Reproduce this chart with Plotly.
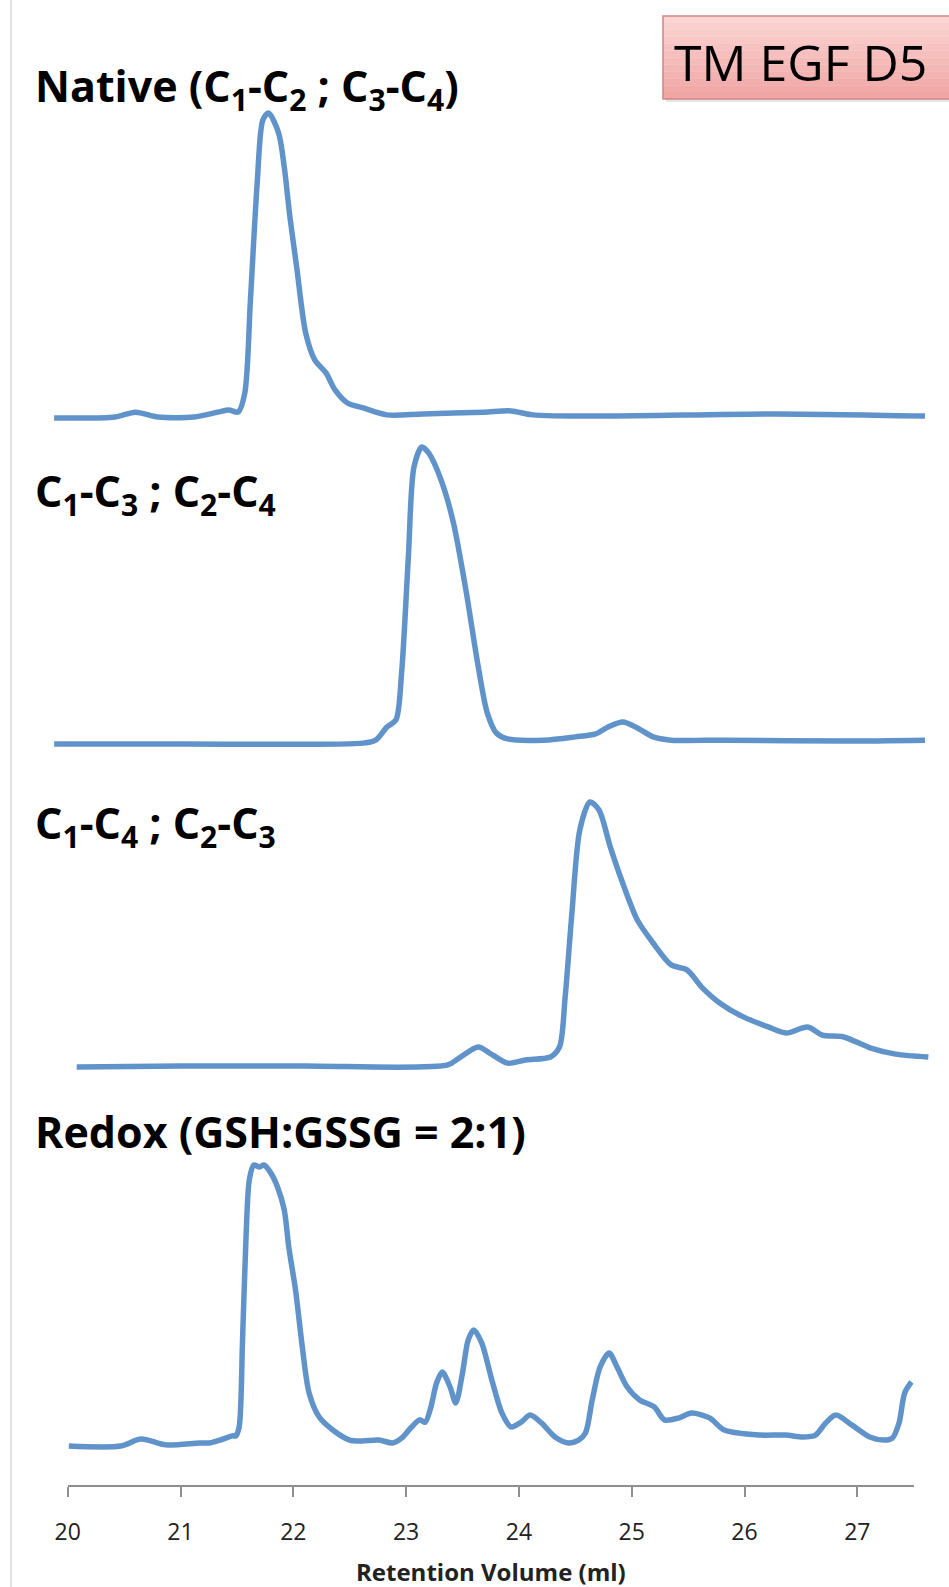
import plotly.graph_objects as go

# ---------------- data ----------------
native_x = [19.88, 20.42, 20.60, 20.80, 21.12, 21.33, 21.43, 21.51, 21.57, 21.62, 21.68, 21.73,
            21.78, 21.87, 21.92, 21.97, 22.03, 22.11, 22.19, 22.29, 22.37, 22.48, 22.62, 22.83,
            23.15, 23.69, 23.93, 24.12, 24.76, 26.27, 27.60]
native_y = [-0.3, 0.0, 1.6, 0.0, 0.0, 1.6, 2.3, 1.6, 7.9, 38.5, 77.0, 97.7,
            100.0, 93.4, 82.2, 65.8, 49.3, 27.6, 18.8, 14.5, 8.9, 4.6, 3.0, 0.7,
            1.0, 1.6, 2.0, 0.7, 0.3, 1.0, 0.3]

c13_x = [19.88, 21.01, 22.62, 22.73, 22.83, 22.91, 22.96, 23.02, 23.07, 23.14, 23.20, 23.31,
         23.42, 23.53, 23.64, 23.72, 23.80, 23.90, 24.22, 24.50, 24.68, 24.79, 24.92, 25.05,
         25.19, 25.35, 25.83, 26.90, 27.60]
c13_y = [0.0, 0.0, 0.3, 1.3, 5.7, 8.1, 23.9, 63.0, 93.3, 100.0, 98.0, 88.9,
         74.4, 51.9, 25.9, 10.4, 3.7, 1.7, 1.3, 2.4, 3.4, 5.7, 7.4, 5.4,
         2.4, 1.3, 1.3, 1.0, 1.3]

c14_x = [20.08, 21.01, 22.08, 23.37, 23.47, 23.64, 23.74, 23.90, 24.06, 24.28, 24.36, 24.41,
         24.47, 24.54, 24.63, 24.71, 24.81, 24.92, 25.05, 25.19, 25.35, 25.49, 25.62, 25.78,
         25.99, 26.21, 26.37, 26.56, 26.69, 26.88, 27.12, 27.34, 27.63]
c14_y = [-0.4, 0.0, 0.0, 0.4, 3.0, 7.2, 4.9, 1.1, 2.3, 3.4, 7.2, 26.1,
         58.0, 89.4, 100.0, 97.0, 83.0, 69.3, 55.3, 46.6, 38.3, 36.4, 29.9, 23.9,
         18.6, 14.8, 12.5, 14.8, 11.7, 11.0, 6.8, 4.5, 3.4]

redox_x = [20.01, 20.47, 20.65, 20.87, 21.17, 21.26, 21.35, 21.46, 21.49, 21.52, 21.55, 21.58,
           21.61, 21.65, 21.70, 21.74, 21.80, 21.86, 21.92, 21.96, 22.02, 22.08, 22.14, 22.23,
           22.35, 22.50, 22.61, 22.76, 22.88, 22.96, 23.04, 23.12, 23.17, 23.22, 23.27, 23.32,
           23.39, 23.44, 23.50, 23.55, 23.60, 23.67, 23.76, 23.85, 23.93, 24.02, 24.10, 24.20,
           24.32, 24.44, 24.53, 24.59, 24.65, 24.72, 24.80, 24.87, 24.96, 25.07, 25.20, 25.29,
           25.42, 25.53, 25.69, 25.82, 26.14, 26.36, 26.52, 26.63, 26.72, 26.81, 26.95, 27.11,
           27.24, 27.31, 27.37, 27.42, 27.48]
redox_y = [0.0, 0.0, 2.5, 0.4, 1.1, 1.1, 2.1, 3.6, 3.6, 6.8, 37.7, 73.3,
           94.7, 100.0, 99.3, 100.0, 97.2, 92.2, 84.0, 70.8, 55.5, 35.2, 18.9, 10.3,
           5.7, 2.1, 1.8, 2.1, 1.1, 2.8, 6.4, 9.3, 8.5, 13.9, 22.4, 26.3,
           21.0, 15.3, 26.0, 37.7, 41.3, 36.7, 23.5, 11.7, 6.8, 8.5, 11.0, 8.2,
           3.2, 1.1, 2.1, 4.6, 16.4, 28.1, 33.1, 28.1, 21.0, 16.4, 13.9, 9.3,
           10.0, 11.7, 10.0, 5.7, 3.9, 3.9, 3.2, 3.9, 8.2, 11.0, 7.5, 3.2,
           2.1, 2.8, 8.2, 18.9, 22.8, 18.9]

panel_labels = ["Native (C<sub>1</sub>-C<sub>2</sub> ; C<sub>3</sub>-C<sub>4</sub>)",
                "C<sub>1</sub>-C<sub>3</sub> ; C<sub>2</sub>-C<sub>4</sub>",
                "C<sub>1</sub>-C<sub>4</sub> ; C<sub>2</sub>-C<sub>3</sub>",
                "Redox (GSH:GSSG = 2:1)"]
x_ticks = [20, 21, 22, 23, 24, 25, 26, 27]
x_title = "Retention Volume (ml)"
badge_text = "TM EGF D5"

# ---------------- layout helpers ----------------
W, H = 949, 1587
PX0, PXU = 67.7, 112.8          # pixel of x=20, pixels per ml
LINE_COLOR = "#6193CB"
FONT = "'Open Sans', Lato, sans-serif"


def xdom(lo, hi):
    return [(PX0 + (lo - 20) * PXU) / W, (PX0 + (hi - 20) * PXU) / W]


def ypanel(base_px, peak_px, top_px, bot_px):
    span = base_px - peak_px
    rng = [(base_px - bot_px) / span * 100, (base_px - top_px) / span * 100]
    dom = [1 - bot_px / H, 1 - top_px / H]
    return rng, dom


# (baseline px, peak px, top px, bottom px)
panels = [(417, 113, 95, 432), (744, 447, 440, 760), (1066, 802, 790, 1078), (1446, 1165, 1150, 1485)]
series = [(native_x, native_y), (c13_x, c13_y), (c14_x, c14_y), (redox_x, redox_y)]
label_y_px = [88, 493, 825, 1131]

fig = go.Figure()
layout = dict(
    width=W, height=H, autosize=False,
    margin=dict(l=0, r=0, t=0, b=0, pad=0, autoexpand=False),
    paper_bgcolor="white", plot_bgcolor="rgba(0,0,0,0)",
    showlegend=False,
    font=dict(family=FONT, color="#1a1a1a"),
)

for i, ((xs, ys), (b, p, t, d)) in enumerate(zip(series, panels)):
    rng, dom = ypanel(b, p, t, d)
    yname = "y" if i == 3 else f"y{i + 2}"
    xname = "x" if i == 3 else "x2"
    fig.add_trace(go.Scatter(x=xs, y=ys, mode="lines", xaxis=xname, yaxis=yname,
                             line=dict(color=LINE_COLOR, width=5.5, shape="spline", smoothing=0.8),
                             hoverinfo="skip"))
    key = "yaxis" if i == 3 else f"yaxis{i + 2}"
    layout[key] = dict(domain=dom, range=rng, visible=False, anchor=xname, fixedrange=True)

layout["xaxis"] = dict(
    domain=xdom(20, 27.5), range=[20, 27.5], anchor="y", automargin=False,
    tickmode="array", tickvals=x_ticks, ticktext=[str(v) for v in x_ticks],
    showline=True, linecolor="#8f8f8f", linewidth=2,
    ticks="outside", ticklen=10, tickwidth=2, tickcolor="#8f8f8f",
    ticklabelstandoff=15,
    tickfont=dict(family=FONT, size=23, color="#222222"),
    showgrid=False, zeroline=False,
)
layout["xaxis2"] = dict(domain=xdom(19.8, 27.7), range=[19.8, 27.7], anchor="y2",
                        visible=False, showgrid=False, zeroline=False)

annotations = []
for lab, ypx in zip(panel_labels, label_y_px):
    annotations.append(dict(text="<b>" + lab + "</b>", xref="paper", yref="paper",
                            x=33 / W, y=1 - ypx / H, xanchor="left", yanchor="middle",
                            showarrow=False, font=dict(family=FONT, size=43, color="black")))
annotations.append(dict(text="<b>" + x_title + "</b>", xref="paper", yref="paper",
                        x=(xdom(20, 27.5)[0] + xdom(20, 27.5)[1]) / 2, y=1 - 1571 / H,
                        xanchor="center", yanchor="middle", showarrow=False,
                        font=dict(family=FONT, size=24, color="#222222")))
annotations.append(dict(text=badge_text, xref="paper", yref="paper",
                        x=672 / W, y=1 - 62 / H, xanchor="left", yanchor="middle",
                        showarrow=False, font=dict(family=FONT, size=50, color="black")))
layout["annotations"] = annotations

# badge with a vertical pink gradient (stacked bands)
top_c, bot_c = (251, 214, 213), (240, 164, 162)
n_bands = 12
bx0, by0, by1 = 663, 16, 99
shapes = [
    dict(type="line", xref="paper", yref="paper", x0=11 / W, x1=11 / W, y0=0, y1=1,
         line=dict(color="#cfcfcf", width=1.2)),
    dict(type="rect", xref="paper", yref="paper", x0=(bx0 + 3) / W, x1=1.02,
         y0=1 - (by1 + 3) / H, y1=1 - (by0 + 3) / H,
         fillcolor="rgba(0,0,0,0.10)", line=dict(width=0), layer="below"),
]
for k in range(n_bands):
    f = (k + 0.5) / n_bands
    c = tuple(round(top_c[j] + (bot_c[j] - top_c[j]) * f) for j in range(3))
    ya = by0 + (by1 - by0) * k / n_bands
    yb = by0 + (by1 - by0) * (k + 1) / n_bands
    shapes.append(dict(type="rect", xref="paper", yref="paper", x0=bx0 / W, x1=1.02,
                       y0=1 - yb / H, y1=1 - ya / H, fillcolor="rgb(%d,%d,%d)" % c,
                       line=dict(width=0), layer="below"))
shapes.append(dict(type="rect", xref="paper", yref="paper", x0=bx0 / W, x1=1.02,
                   y0=1 - by1 / H, y1=1 - by0 / H, fillcolor="rgba(0,0,0,0)",
                   line=dict(color="#D08582", width=1.5), layer="below"))
layout["shapes"] = shapes

fig.update_layout(**layout)
fig.write_html("out.html", config={"responsive": False, "displayModeBar": False},
               post_script="document.body.style.margin='0';document.body.style.overflow='hidden';")
